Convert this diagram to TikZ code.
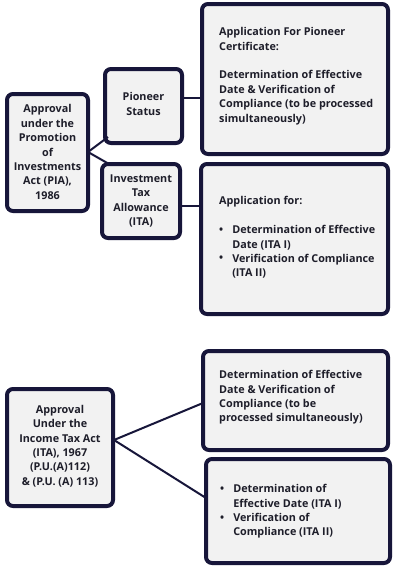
\documentclass[tikz,border=0pt]{standalone}
\usepackage{fontspec}
\setmainfont{Open Sans}
\definecolor{navy}{HTML}{17163A}
\definecolor{boxfill}{HTML}{F2F2F2}
\definecolor{txt}{HTML}{1E1E2A}
\newcommand{\bul}{\raisebox{0.5pt}{\textbullet}}
\tikzset{
  box/.style={draw=navy, fill=boxfill, line width=4pt, rounded corners=6pt},
  lbl/.style={text=txt, font=\fontsize{10.8}{14.4}\selectfont\bfseries, inner sep=0pt},
  conn/.style={draw=navy, line width=2pt}
}
\begin{document}
\begin{tikzpicture}[x=1pt,y=-1pt]
\useasboundingbox[fill=white] (0,0) rectangle (400,582);
% boxes
\draw[box] (7,94) rectangle (88,211);
\draw[box] (105,69) rectangle (182,143);
\draw[box] (102,164) rectangle (180,238);
\draw[box] (202,4) rectangle (388,154);
\draw[box] (201,164) rectangle (388,314);
\draw[box] (7,389) rectangle (113,506);
\draw[box] (203,351) rectangle (388,450);
\draw[box] (206,459) rectangle (390,563);
% anchor coordinates
\coordinate (a1) at (88,152);
\coordinate (ps) at (108,137);
\coordinate (it) at (109,164);
\coordinate (psr) at (182,98);
\coordinate (b1l) at (202,98);
\coordinate (itr) at (180,206);
\coordinate (b2l) at (201,206);
\coordinate (a2) at (114,440);
\coordinate (b3l) at (203,403);
\coordinate (b4l) at (206,498);
% connectors
\draw[conn] (a1) -- (ps);
\draw[conn] (a1) -- (it);
\draw[conn] (psr) -- (b1l);
\draw[conn] (itr) -- (b2l);
\draw[conn] (a2) -- (b3l);
\draw[conn] (a2) -- (b4l);
% texts
\node[lbl, align=center] (ta) at (47.5,152) {Approval\\under the\\Promotion\\of\\Investments\\Act (PIA),\\1986};
\node[lbl, align=center] (tp) at (143.5,104) {Pioneer\\Status};
\node[lbl, align=center] (ti) at (141,201) {Investment\\Tax\\Allowance\\(ITA)};
\node[lbl, align=left, anchor=west] (t1) at (219,76) {Application For Pioneer\\Certificate:\\[14.4pt]Determination of Effective\\Date \& Verification of\\Compliance (to be processed\\simultaneously)};
\node[lbl, anchor=west] (t2) at (219,238) {\begin{tabular}{@{}l@{\hspace{9pt}}l@{}}
\multicolumn{2}{@{}l@{}}{Application for:}\\[14.4pt]
\bul & Determination of Effective\\
 & Date (ITA I)\\
\bul & Verification of Compliance\\
 & (ITA II)
\end{tabular}};
\node[lbl, align=center] (ta2) at (60,446) {Approval\\Under the\\Income Tax Act\\(ITA), 1967\\(P.U.(A)112)\\\& (P.U. (A) 113)};
\node[lbl, align=left, anchor=west] (t3) at (219,397.5) {Determination of Effective\\Date \& Verification of\\Compliance (to be\\processed simultaneously)};
\node[lbl, anchor=west] (t4) at (220,511.5) {\begin{tabular}{@{}l@{\hspace{9pt}}l@{}}
\bul & Determination of\\
 & Effective Date (ITA I)\\
\bul & Verification of\\
 & Compliance (ITA II)
\end{tabular}};
\end{tikzpicture}
\end{document}
